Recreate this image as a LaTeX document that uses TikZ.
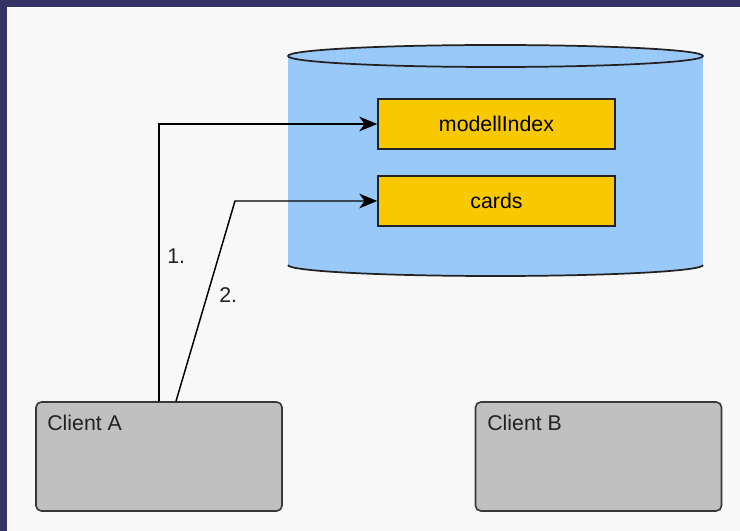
\documentclass[tikz,border=0pt]{standalone}
\usepackage{fontspec}
\setmainfont{Liberation Sans}
\usetikzlibrary{arrows.meta}
\definecolor{frame}{RGB}{51,51,102}
\definecolor{canvas}{RGB}{248,248,248}
\definecolor{dbblue}{RGB}{153,201,248}
\definecolor{gold}{RGB}{248,200,0}
\definecolor{clientgray}{RGB}{192,192,192}
\definecolor{ink}{RGB}{34,34,34}
\tikzset{
  store/.style={draw=ink, line width=1.1pt, fill=gold, minimum width=177.75pt,
    minimum height=37.5pt, inner sep=0pt, font=\fontsize{16}{19}\selectfont},
  client/.style={draw=ink!90, line width=1.2pt, fill=clientgray, rounded corners=4pt,
    minimum width=184.5pt, minimum height=81.75pt, inner sep=0pt},
  caption/.style={anchor=base west, inner sep=0pt, text=ink, font=\fontsize{16}{19}\selectfont},
  flow/.style={draw=black, line width=1.1pt,
    -{Stealth[length=13.5pt, width=11pt, inset=4pt]}},
}
\begin{document}
\begin{tikzpicture}[x=0.75pt, y=-0.75pt]
  \useasboundingbox (0,0) rectangle (740,531);
  % frame and canvas
  \fill[frame] (0,0) rectangle (740,531);
  \fill[canvas] (7,7) rectangle (740,531);

  % database cylinder
  \fill[dbblue] (288,56) rectangle (703,265);
  \fill[dbblue] (288,265) arc[start angle=180, end angle=360, x radius=155.625pt, y radius=8.25pt] -- cycle;
  \draw[ink, line width=1.3pt] (288,265) arc[start angle=180, end angle=360, x radius=155.625pt, y radius=8.25pt];
  \draw[ink, line width=1.3pt, fill=dbblue] (495.5,56) ellipse[x radius=155.625pt, y radius=8.25pt];

  % collections
  \node[store] (mi) at (496.5,124) {modellIndex};
  \node[store] (cards) at (496.5,201) {cards};

  % clients
  \node[client] (ca) at (159,456.5) {};
  \node[client] (cb) at (598.5,456.5) {};
  \node[caption] (catext) at (47,431) {Client A};
  \node[caption] (cbtext) at (487,431) {Client B};

  % requests
  \coordinate (bend) at (235,201);
  \draw[flow] (ca.north) |- (mi.west);
  \draw[flow] ([xshift=12.75pt]ca.north) -- (bend) -- (cards.west);
  \node[caption] (n1) at (167,264) {1.};
  \node[caption] (n2) at (219,303) {2.};
\end{tikzpicture}
\end{document}
